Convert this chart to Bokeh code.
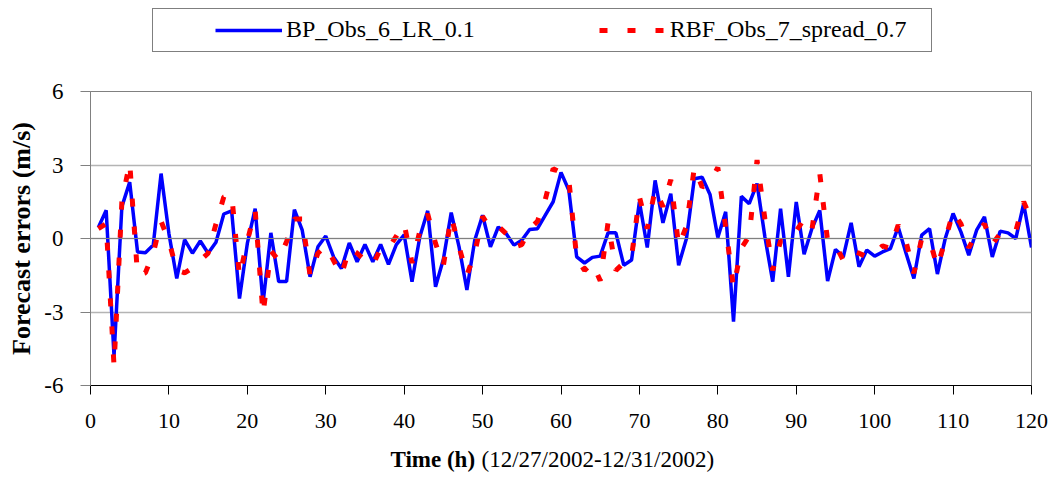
from bokeh.plotting import figure
from bokeh.layouts import column
from bokeh.models import Legend, LegendItem, Span, FixedTicker, ColumnDataSource
from bokeh.core.properties import value
from bokeh.embed import file_html
from bokeh.resources import INLINE

hours = list(range(1, 121))

bp_obs6 = [
    0.45, 1.15, -4.8, 1.3, 2.3, -0.55, -0.58, -0.27, 2.65, 0.2,
    -1.63, -0.05, -0.6, -0.1, -0.6, -0.15, 1.0, 1.13, -2.45, -0.2,
    1.22, -2.65, 0.23, -1.76, -1.76, 1.18, 0.34, -1.56, -0.34, 0.1,
    -0.75, -1.22, -0.18, -0.95, -0.24, -0.95, -0.24, -1.06, -0.25, 0.15,
    -1.76, 0.07, 1.13, -1.97, -0.85, 1.06, -0.34, -2.1, -0.07, 0.95,
    -0.34, 0.47, 0.2, -0.27, -0.07, 0.37, 0.4, 0.95, 1.5, 2.7,
    1.97, -0.75, -1.0, -0.77, -0.72, 0.23, 0.23, -1.09, -0.88, 1.5,
    -0.37, 2.37, 0.64, 1.83, -1.09, 0.0, 2.44, 2.5, 1.8, 0.04,
    1.09, -3.39, 1.72, 1.42, 2.24, 0.07, -1.76, 1.22, -1.56, 1.49,
    -0.64, 0.41, 1.15, -1.74, -0.45, -0.75, 0.64, -1.15, -0.47, -0.72,
    -0.55, -0.41, 0.47, -0.6, -1.63, 0.14, 0.4, -1.45, 0.0, 1.02,
    0.27, -0.68, 0.34, 0.88, -0.75, 0.3, 0.23, 0.0, 1.42, -0.37,
]

rbf_obs7 = [
    0.4, 0.6, -5.2, 1.5, 3.1, -1.5, -1.4, -0.6, 0.7, -0.1,
    -1.3, -1.4, -1.2, -0.9, -0.6, 0.6, 1.7, 1.8, -1.55, -0.1,
    1.15, -3.1, -0.5, -0.9, -0.13, 0.8, 0.8, -1.5, -0.6, -0.3,
    -0.9, -1.5, -0.4, -0.6, -0.9, -1.1, -0.4, -0.4, 0.1, 0.6,
    -1.0, 0.3, 1.0, -0.2, -1.1, 0.9, -0.34, -1.5, -0.6, 0.9,
    0.4, 0.5, 0.2, -0.35, -0.25, 0.4, 0.7, 1.6, 2.85, 2.7,
    2.4, -0.8, -1.3, -1.0, -1.72, 0.65, -1.3, -1.0, -0.75, 1.7,
    0.4, 2.0, 1.3, 2.4, -0.3, 0.5, 2.9, 2.1, 2.3, 2.9,
    0.45, -2.0, -0.4, 0.1, 3.2, 0.8, -1.3, -0.1, -0.1, 0.3,
    0.8, 0.35, 2.65, -0.1, -0.25, -0.9, -0.5, -0.6, -0.75, -0.6,
    -0.3, -0.4, 0.55, -0.13, -1.42, 0.0, -0.07, -1.15, -0.07, 1.09,
    0.6, -0.38, 0.2, 0.6, -0.24, 0.2, 0.2, 0.3, 1.5, 0.75,
]

x_ticks = list(range(0, 121, 10))
y_ticks = [-6, -3, 0, 3, 6]
y_tick_labels = {-6: "-6", -3: "-3", 0: "0", 3: "3", 6: "6"}
series_labels = ["BP_Obs_6_LR_0.1", "RBF_Obs_7_spread_0.7"]
y_title = "Forecast errors (m/s)"
x_title_bold = "Time (h)"
x_title_rest = "(12/27/2002-12/31/2002)"

FONT = "Liberation Serif"
BLUE = "#0000FF"
RED = "#FF0000"
RED_DASH = "8 20"

src = ColumnDataSource(data=dict(h=hours, bp=bp_obs6, rbf=rbf_obs7))

# ---------------- legend strip (top) ----------------
# (its frame is aligned with the main chart's frame: left edge at x=90)
top = figure(width=1053, height=60, x_range=(0, 941), y_range=(0, 60),
             output_backend="svg", toolbar_location=None,
             x_axis_type=None, y_axis_type=None, min_border=0)
top.outline_line_color = None
top.grid.visible = False
# legend-key renderers (kept outside the visible range)
t_blue = top.line(x=[-60, -50], y=[-60, -60], line_color=BLUE, line_width=3.5)
t_red = top.line(x=[-60, -50], y=[-60, -60], line_color=RED, line_width=5,
                 line_dash=RED_DASH)

legend_box = Legend(items=[LegendItem(label=" ", renderers=[t_blue])],
                    location=(62, 8), orientation="horizontal",
                    padding=0, margin=0, glyph_width=0, glyph_height=42,
                    label_width=778, label_height=42, label_standoff=0,
                    label_text_font_size="1px",
                    border_line_color="black", border_line_width=1,
                    background_fill_color="white", background_fill_alpha=1)
top.add_layout(legend_box)

legend_items = Legend(items=[LegendItem(label=series_labels[0], renderers=[t_blue]),
                             LegendItem(label=series_labels[1], renderers=[t_red])],
                      location=(125, 17), orientation="horizontal",
                      padding=0, margin=0, spacing=124,
                      glyph_width=67, glyph_height=26, label_height=26,
                      label_standoff=4,
                      label_text_font=FONT, label_text_font_size="24px",
                      label_text_color="black",
                      border_line_color=None, background_fill_alpha=0)
top.add_layout(legend_items)

# ---------------- main chart ----------------
p = figure(width=1053, height=380, x_range=(0, 120), y_range=(-6, 6),
           output_backend="svg", toolbar_location=None,
           min_border_left=90, min_border_right=22,
           min_border_top=31, min_border_bottom=55)
p.background_fill_color = "white"
p.border_fill_color = "white"
p.outline_line_color = "#808080"
p.outline_line_width = 1

p.xgrid.visible = False
p.ygrid.grid_line_color = "#b4b4b4"
p.ygrid.grid_line_width = 1.5
p.ygrid.ticker = FixedTicker(ticks=y_ticks)
p.add_layout(Span(location=0, dimension="width", line_color="#808080", line_width=1))

p.line("h", "bp", source=src, line_color=BLUE, line_width=3.5)
p.line("h", "rbf", source=src, line_color=RED, line_width=5, line_dash=RED_DASH)

p.xaxis.ticker = FixedTicker(ticks=x_ticks)
p.yaxis.ticker = FixedTicker(ticks=y_ticks)
p.yaxis.major_label_overrides = y_tick_labels
for ax in (p.xaxis[0], p.yaxis[0]):
    ax.minor_tick_line_color = None
    ax.major_tick_in = 0
    ax.major_label_text_font = FONT
    ax.major_label_text_color = "black"
p.xaxis.major_tick_out = 9
p.xaxis.axis_line_color = "black"
p.xaxis.major_tick_line_color = "black"
p.xaxis.major_label_text_font_size = "22px"
p.xaxis.major_label_standoff = 19

p.yaxis.major_tick_out = 10
p.yaxis.axis_line_color = "#808080"
p.yaxis.major_tick_line_color = "#808080"
p.yaxis.major_label_text_font_size = "23px"
p.yaxis.major_label_standoff = 17
p.yaxis.axis_label = y_title
p.yaxis.axis_label_text_font = FONT
p.yaxis.axis_label_text_font_style = "bold"
p.yaxis.axis_label_text_font_size = "26px"
p.yaxis.axis_label_text_color = "black"
p.yaxis.axis_label_standoff = 5

# ---------------- x-axis title strip (bottom) ----------------
# frame aligned with the main chart: data x equals page pixel x
bot = figure(width=1053, height=45, x_range=(90, 1031), y_range=(0, 45),
             output_backend="svg", toolbar_location=None,
             x_axis_type=None, y_axis_type=None, min_border=0)
bot.outline_line_color = None
bot.grid.visible = False
bot.text(x=[390], y=[26], text=[x_title_bold], text_font=value(FONT),
         text_font_style="bold", text_font_size="23px",
         text_baseline="alphabetic", text_align="left", text_color="black")
bot.text(x=[481], y=[26], text=[x_title_rest], text_font=value(FONT),
         text_font_size="23px", text_baseline="alphabetic",
         text_align="left", text_color="black")

layout = column(top, p, bot, spacing=0)
open("out.html", "w").write(file_html(layout, INLINE))
